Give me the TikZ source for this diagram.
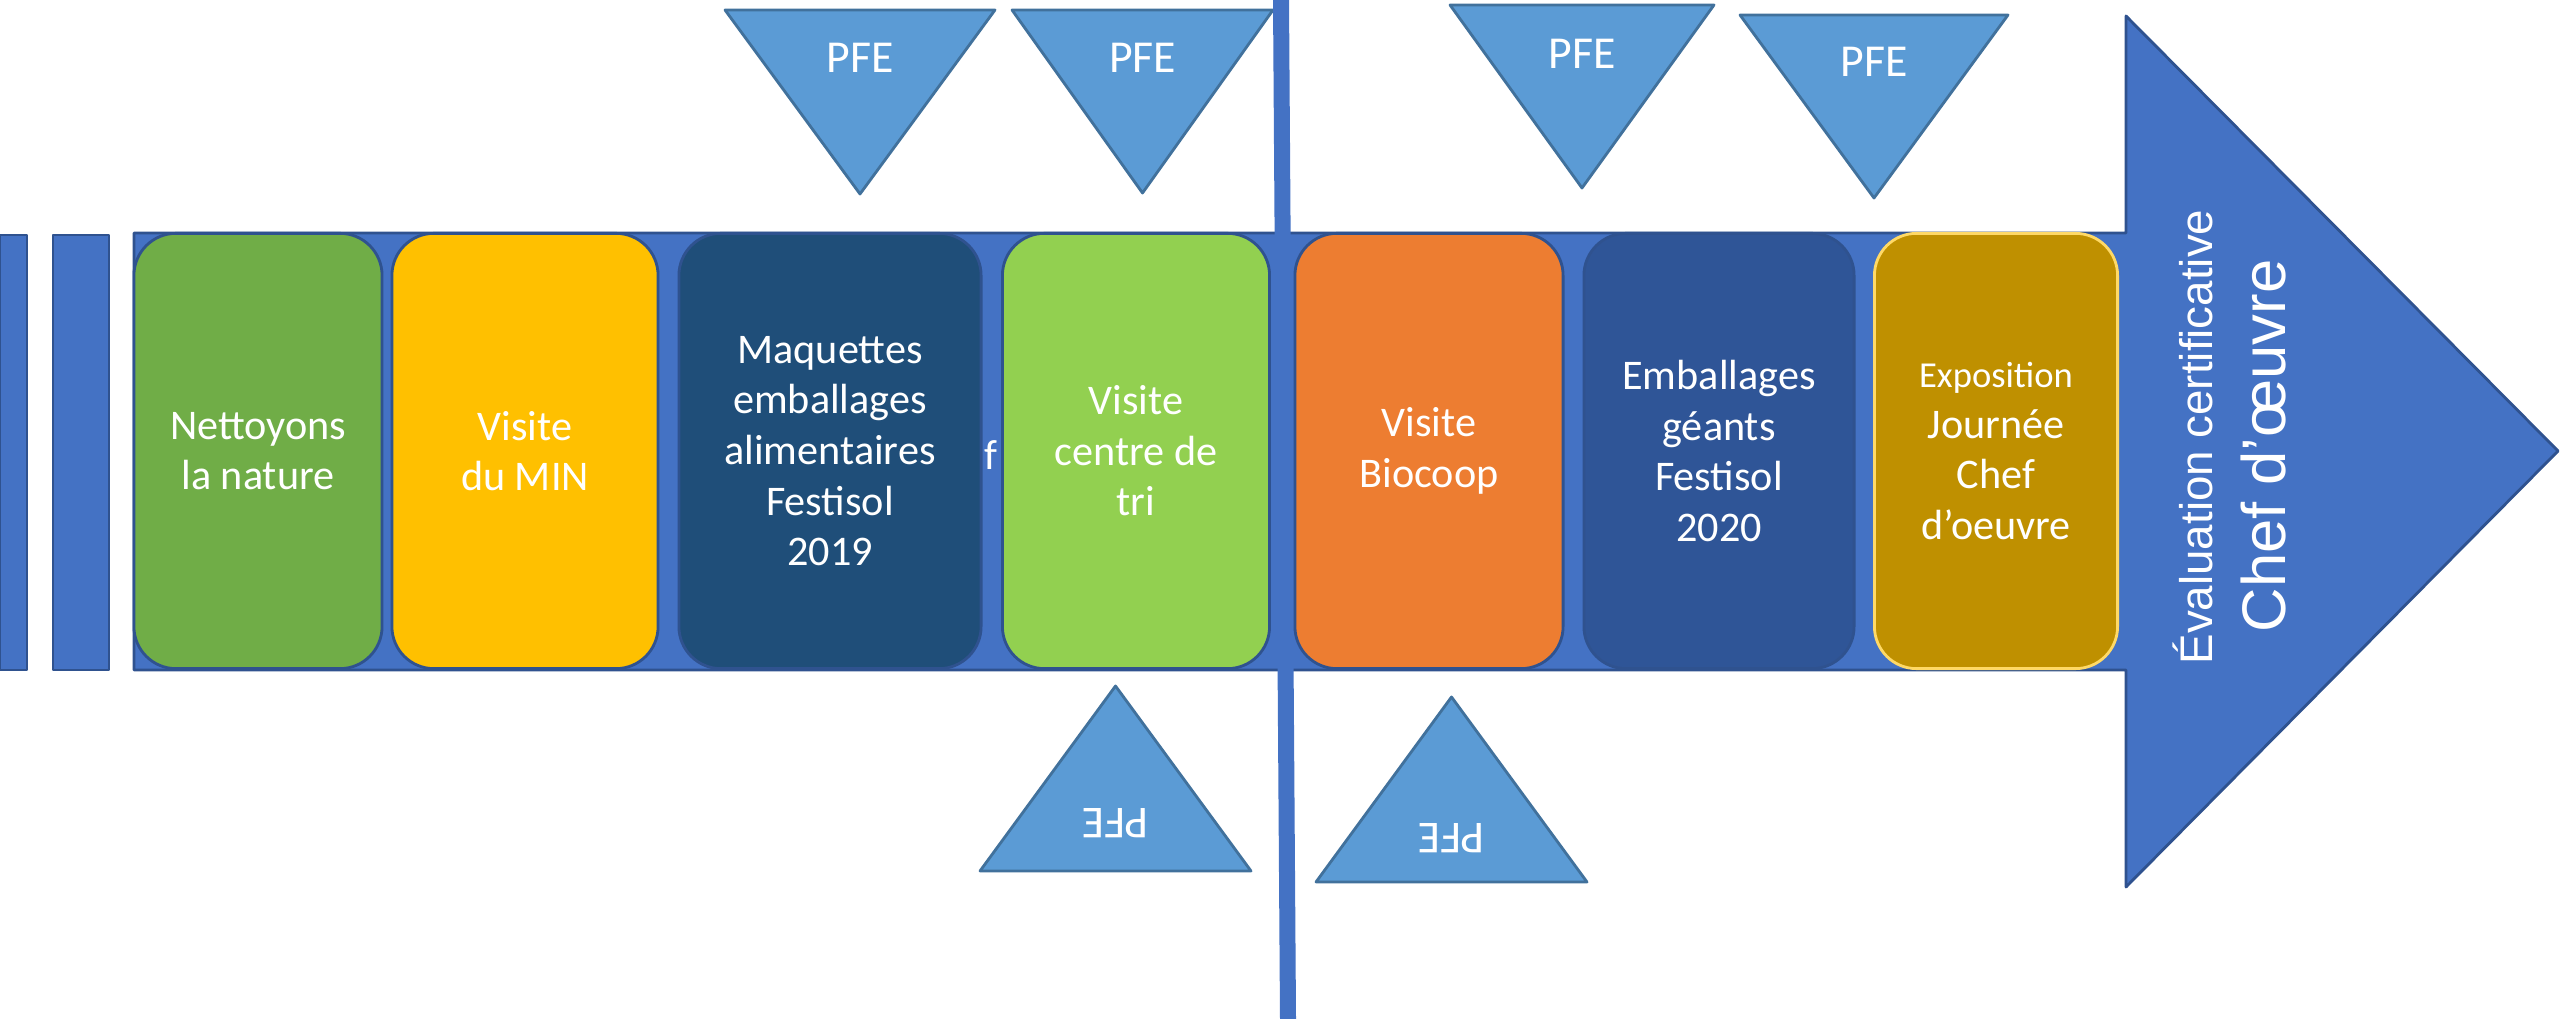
\documentclass[tikz,border=0pt]{standalone}
\usepackage{fontspec}
\setmainfont{Carlito}
\newfontfamily\arialfont{Liberation Sans}
\definecolor{bleufleche}{HTML}{4472C4}
\definecolor{bordfleche}{HTML}{2F528F}
\definecolor{bleupfe}{HTML}{5B9BD5}
\definecolor{bordpfe}{HTML}{41719C}
\definecolor{vertfonce}{HTML}{70AD47}
\definecolor{jaune}{HTML}{FFC000}
\definecolor{marine}{HTML}{1F4E79}
\definecolor{vertclair}{HTML}{92D050}
\definecolor{orangebox}{HTML}{ED7D31}
\definecolor{bleufonce}{HTML}{2F5597}
\definecolor{ocre}{HTML}{BF9000}
\definecolor{bordocre}{HTML}{FFD966}
\begin{document}
\begin{tikzpicture}[x=0.01cm,y=-0.01cm,line join=round]
            \tikzset{etape/.style={draw=bordfleche,line width=0.8pt,rounded corners=0.42cm,text=white,align=center,
                    minimum height=4.35cm,inner sep=0pt,font=\fontsize{12}{14.4}\selectfont},
                fleche/.style={fill=bleufleche,draw=bordfleche,line width=0.8pt},
                pfe/.style={fill=bleupfe,draw=bordpfe,line width=0.8pt},
                pfe label/.style={text=white,inner sep=0pt,font=\fontsize{13}{15}\selectfont}}
            \useasboundingbox (0,0) rectangle (2560,1019);
            % triangles PFE
            \foreach \g/\d/\h/\s/\ly [count=\i] in {725/995/10/194/58,1012/1273/10/193/58,1450/1714/5/188/54,1740/2008/15/198/62}
            {
                \draw[pfe] (\g,\h)--(\d,\h)--({(\g+\d)/2},\s)--cycle;
                \node[pfe label] (pfe\i) at ({(\g+\d)/2},\ly) {PFE};
            }
            \foreach \g/\d/\b/\s/\ly [count=\i] in {980/1251/871/686/823,1316/1587/882/697/838}
            {
                \draw[pfe] (\g,\b)--(\d,\b)--({(\g+\d)/2},\s)--cycle;
                \node[pfe label,rotate=180] (pfeb\i) at ({(\g+\d)/2},\ly) {PFE};
            }
            % fleche
            \draw[fleche] (0,235) rectangle (27,670);
            \draw[fleche] (53,235) rectangle (109,670);
            \draw[fleche] (134,233)--(2126,233)--(2126,16)--(2558,451)--(2126,887)--(2126,670)--(134,670)--cycle;
            \node[text=white,font=\fontsize{12}{14.4}\selectfont] (reste) at (991,455) {f};
            \coordinate (ligne haut) at (1281,0);
            \coordinate (ligne bas) at (1288,1019);
            \draw[bleufleche,line width=0.16cm] (ligne haut)--(ligne bas);
            % etapes
            \node[etape,fill=vertfonce,minimum width=2.48cm] (nature) at (258,451) {Nettoyons\\la nature};
            \node[etape,fill=jaune,minimum width=2.66cm] (min) at (525,451) {Visite\\du MIN};
            \node[etape,fill=marine,minimum width=3.02cm] (maquettes) at (830,451) {Maquettes\\emballages\\alimentaires\\Festisol\\2019};
            \node[etape,fill=vertclair,minimum width=2.67cm] (tri) at (1136,451) {Visite\\centre de\\tri};
            \node[etape,fill=orangebox,minimum width=2.68cm] (biocoop) at (1429,451) {Visite\\Biocoop};
            \node[etape,fill=bleufonce,minimum width=2.70cm] (geants) at (1719,451) {Emballages\\géants\\Festisol\\2020};
            \node[etape,fill=ocre,draw=bordocre,minimum width=2.43cm] (expo) at (1996,451)
                {{\fontsize{10.4}{14.4}\selectfont Exposition}\\Journée\\Chef\\d’oeuvre};
            % tete de fleche
            \node[text=white,rotate=90,anchor=base,font=\arialfont\fontsize{13}{15}\selectfont] (evaluation) at (2212,437) {Évaluation certificative};
            \node[text=white,rotate=90,anchor=base,font=\arialfont\fontsize{17.5}{21}\selectfont] (chef) at (2285,446) {Chef d’œuvre};
        \end{tikzpicture}
\end{document}
